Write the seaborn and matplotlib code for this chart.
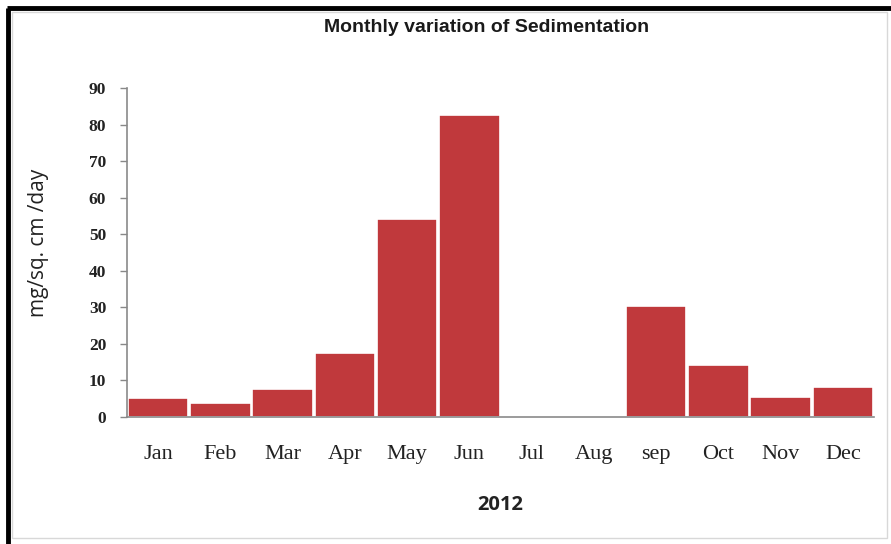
import matplotlib
matplotlib.use("Agg")
import matplotlib.pyplot as plt
import matplotlib.patches as mpatches
import seaborn as sns
import pandas as pd

months = ["Jan", "Feb", "Mar", "Apr", "May", "Jun", "Jul", "Aug", "sep", "Oct", "Nov", "Dec"]
sedimentation = [5.2, 3.7, 7.7, 17.6, 54.3, 82.6, 0, 0, 30.5, 14.1, 5.4, 8.2]
y_ticks = [0, 10, 20, 30, 40, 50, 60, 70, 80, 90]

sns.set_theme(style="white")

df = pd.DataFrame({"month": months, "value": sedimentation})

fig = plt.figure(figsize=(8.91, 5.44), dpi=100)
ax = fig.add_axes([127 / 891, 1 - 417 / 544, (874 - 127) / 891, (417 - 88) / 544])

sns.barplot(data=df, x="month", y="value", color="#C0393C", saturation=1,
            width=0.97, edgecolor="white", linewidth=1.2, ax=ax)

ax.set_xlim(-0.5, 11.5)
ax.set_ylim(0, 90)
ax.set_yticks(y_ticks)
ax.set_yticklabels([str(t) for t in y_ticks], fontfamily="Liberation Serif",
                   fontweight="bold", fontsize=12.5, color="#222222")
ax.set_xticks(range(len(months)))
ax.set_xticklabels(months, fontfamily="Liberation Serif", fontsize=16, color="#222222")

ax.tick_params(axis="y", which="major", direction="out", length=5, width=1,
               color="#888888", left=True, pad=10)
ax.tick_params(axis="x", length=0, pad=20)

for side in ["top", "right"]:
    ax.spines[side].set_visible(False)
for side in ["left", "bottom"]:
    ax.spines[side].set_color("#8a8a8a")
    ax.spines[side].set_linewidth(1.2)

ax.set_ylabel("mg/sq. cm /day", fontfamily="Open Sans", fontsize=15, color="#222222")
ax.yaxis.set_label_coords(-0.118, 0.53)
ax.yaxis.label.set_va("center")
ax.set_xlabel("2012", fontfamily="Open Sans", fontweight="bold", fontsize=14.5, color="#222222")
ax.xaxis.set_label_coords(0.5, -0.267)
ax.xaxis.label.set_va("center")

fig.text(0.546, 1 - 27 / 544, "Monthly variation of Sedimentation",
         fontfamily="Liberation Sans", fontweight="bold", fontsize=14,
         ha="center", va="center", color="#1a1a1a")

# outer frame: heavy dark edge on top and left, thin light box inside
fig.add_artist(plt.Line2D([8 / 891, 8 / 891], [0, 1 - 8 / 544], transform=fig.transFigure,
                          color="black", linewidth=3.5, solid_capstyle="butt"))
fig.add_artist(plt.Line2D([6.5 / 891, 1], [1 - 8 / 544, 1 - 8 / 544], transform=fig.transFigure,
                          color="black", linewidth=3.5, solid_capstyle="butt"))
fig.add_artist(mpatches.Rectangle((12 / 891, 1 - 538 / 544), (887 - 12) / 891, (538 - 12) / 544,
                                  transform=fig.transFigure, fill=False,
                                  edgecolor="#d8d8d8", linewidth=1))

fig.savefig("out.png", dpi=100)
